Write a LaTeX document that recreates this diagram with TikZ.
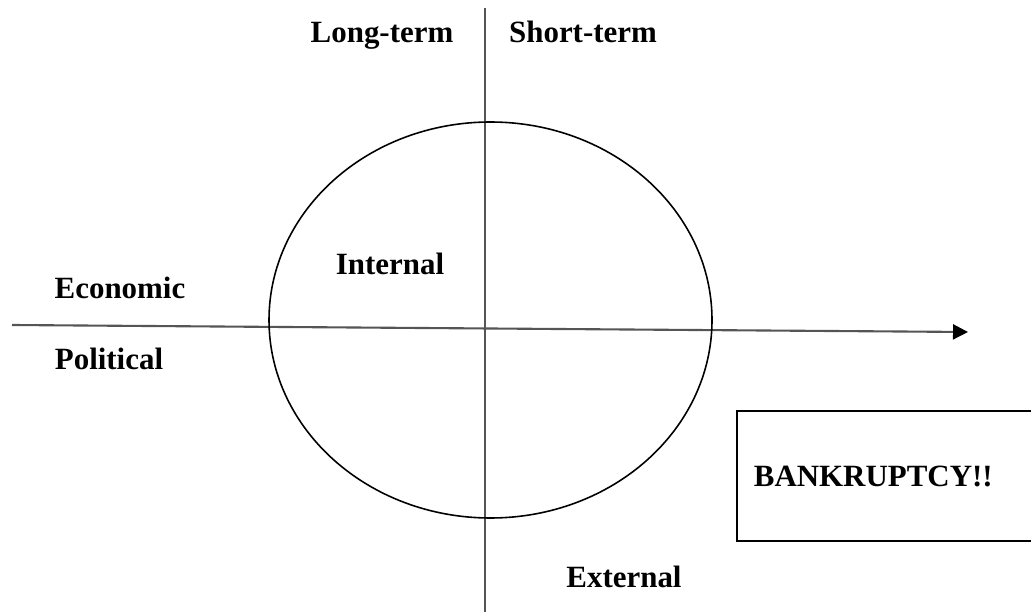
\documentclass[tikz,border=0pt]{standalone}
\usepackage{fontspec}
\setmainfont{Liberation Serif}
\usepackage{tikz}
\usetikzlibrary{arrows.meta,positioning}
\definecolor{axisgray}{HTML}{555555}

\tikzset{
  quadlabel/.style={font=\fontsize{17.6}{20}\selectfont\bfseries, anchor=base, inner sep=0pt},
  axisline/.style={axisgray, line width=1.2pt},
  alertbox/.style={draw, line width=1pt, anchor=west, text width=6cm, align=left,
    minimum height=2.6cm, inner sep=0.34cm, font=\fontsize{17.6}{20}\selectfont\bfseries}
}

\begin{document}
\begin{tikzpicture}
  \useasboundingbox (0,0) rectangle (20.62,12.24);
  \clip (0,0) rectangle (20.62,12.24);

  % Axes
  \coordinate (vtop) at (9.7,12.08);
  \coordinate (vbot) at (9.7,0);
  \coordinate (hleft) at (0.24,5.74);
  \coordinate (hright) at (19.36,5.6);
  \draw[axisline] (vtop) -- (vbot);
  \draw[axisline, -{Triangle[length=0.3cm, width=0.3cm, color=black, fill=black]}] (hleft) -- (hright);

  % Risk circle
  \coordinate (centre) at (9.81,5.84);
  \draw[black, line width=0.9pt] (centre) ellipse [x radius=4.43, y radius=3.96];

  % Quadrant labels
  \node[quadlabel] (longterm) at (7.64,11.38) {Long-term};
  \node[quadlabel] (shortterm) at (11.66,11.38) {Short-term};
  \node[quadlabel] (internal) at (7.8,6.74) {Internal};
  \node[quadlabel] (economic) at (2.4,6.26) {Economic};
  \node[quadlabel] (political) at (2.18,4.85) {Political};
  \node[quadlabel] (external) at (12.48,0.5) {External};

  % Outcome box
  \node[alertbox] (bankrupt) at (14.72,2.72) {BANKRUPTCY!!};
\end{tikzpicture}
\end{document}
